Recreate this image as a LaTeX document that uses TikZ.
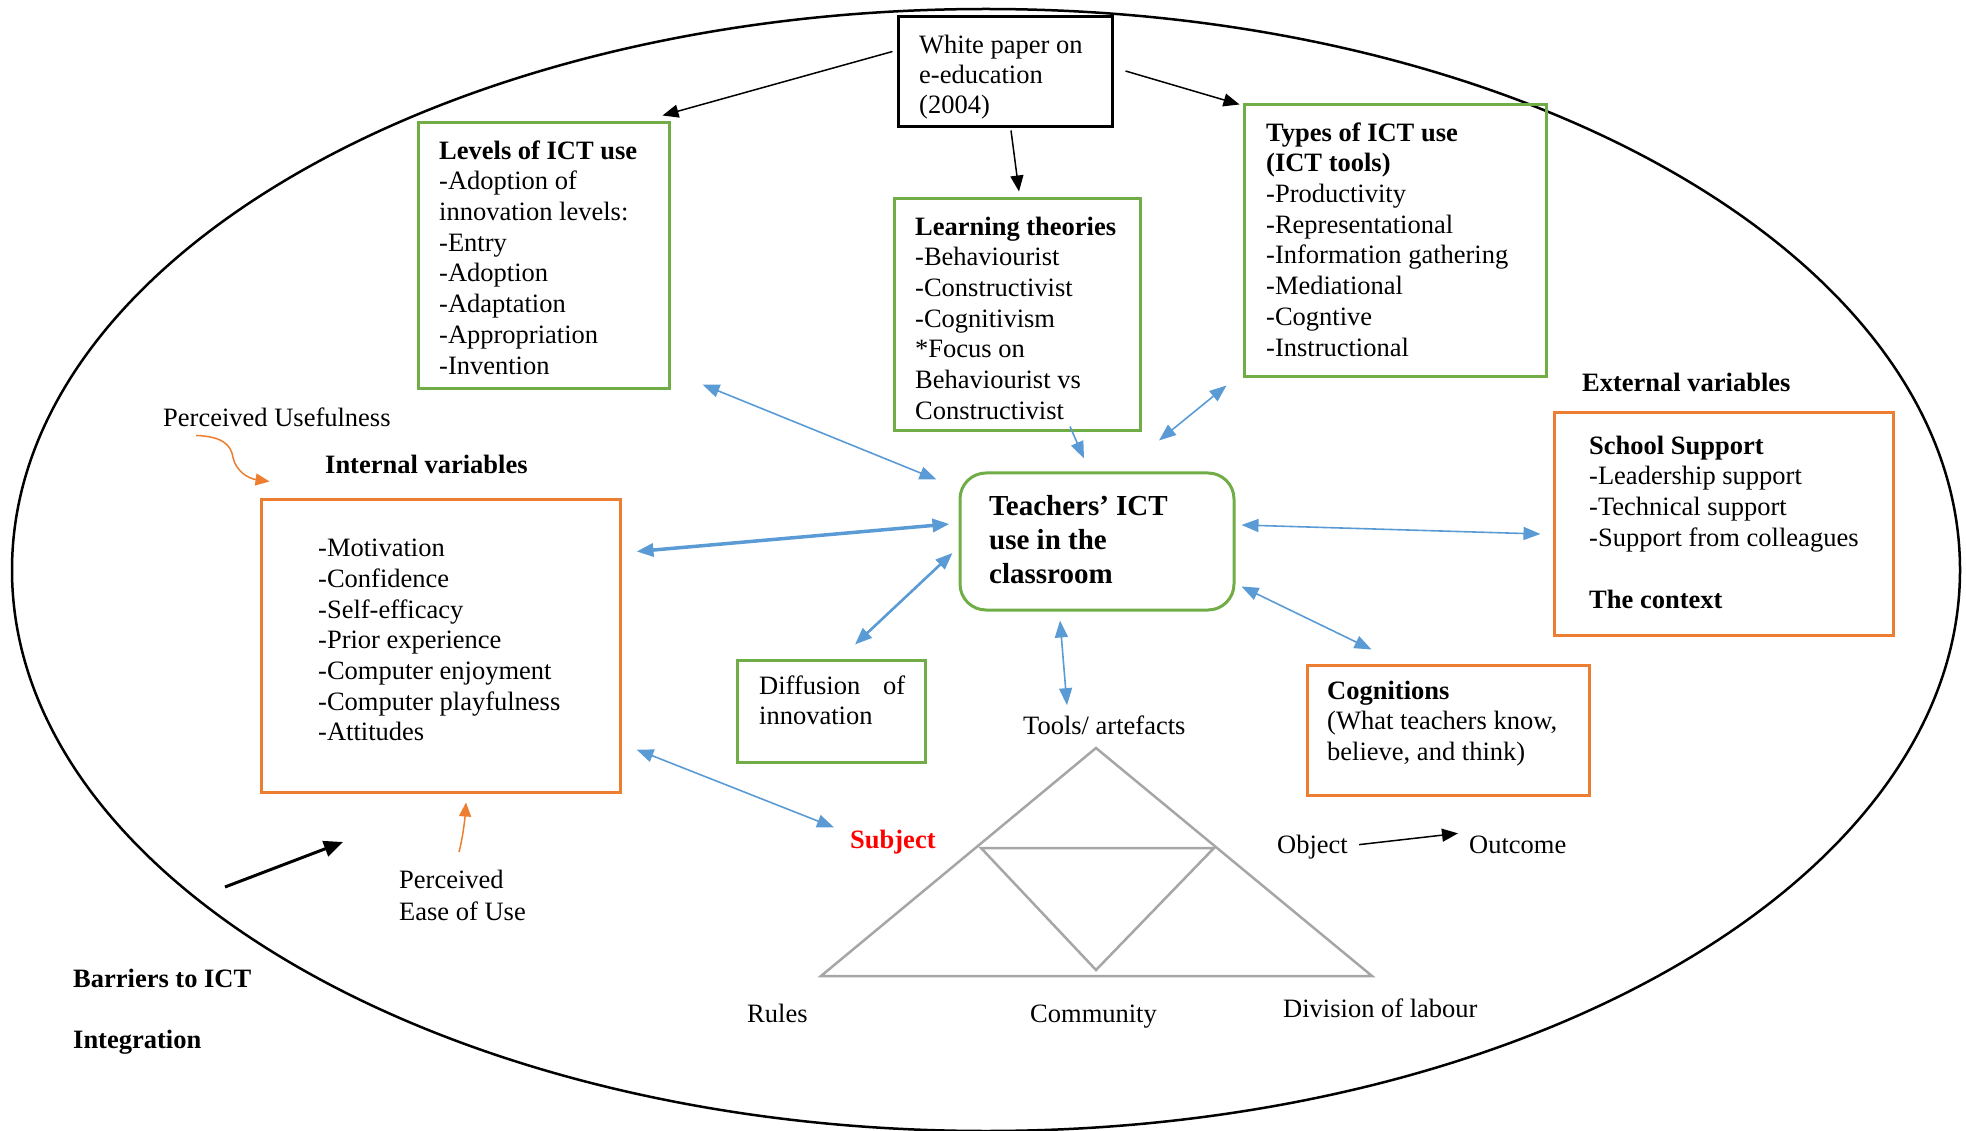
\documentclass[tikz,border=0pt]{standalone}
\usepackage{fontspec}
\setmainfont{Liberation Serif}
\usetikzlibrary{arrows.meta,fit,calc}
\definecolor{boxgreen}{HTML}{70AD47}
\definecolor{boxorange}{HTML}{ED7D31}
\definecolor{linkblue}{HTML}{5B9BD5}
\definecolor{trigray}{HTML}{A6A6A6}

\begin{document}
\begin{tikzpicture}[x=1pt,y=-1pt,
  txt/.style={inner sep=0pt, align=left, anchor=base west,
    font=\fontsize{26.5pt}{30.7pt}\selectfont},
  txtb/.style={txt, font=\fontsize{26.5pt}{30.7pt}\selectfont\bfseries},
  % multi-line text: the first line is given a fixed height of 22pt above its baseline
  mtxt/.style={inner sep=0pt, align=left, anchor=north west,
    font=\fontsize{26.5pt}{30.7pt}\selectfont},
  gbox/.style={draw=boxgreen, line width=3pt, inner sep=0pt},
  obox/.style={draw=boxorange, line width=3pt, inner sep=0pt},
  kbox/.style={draw=black, line width=3pt, inner sep=0pt},
  karrow/.style={draw=black, line width=1.5pt, -{Triangle[length=16pt,width=13pt]}},
  barrow/.style={draw=linkblue, line width=1.6pt,
    {Triangle[length=17pt,width=13pt]}-{Triangle[length=17pt,width=13pt]}},
  sarrow/.style={draw=linkblue, line width=1.6pt, -{Triangle[length=17pt,width=13pt]}},
  oarrow/.style={draw=boxorange, line width=1.5pt, -{Triangle[length=14pt,width=12pt]}},
  tri/.style={draw=trigray, line width=2.5pt, line join=miter}]

\newcommand\firstline{\rule{0pt}{22pt}}

\useasboundingbox (0,0) rectangle (1966,1131);

% outer frame
\draw[line width=2.5pt] (986,570) ellipse [x radius=974, y radius=561];

% boxes
\node[kbox, fit={(898,17) (1112,127)}] (wp) {};
\node[gbox, fit={(418,123) (669,389)}] (levels) {};
\node[gbox, fit={(894,199) (1140,431)}] (learn) {};
\node[gbox, fit={(1244,105) (1546,377)}] (types) {};
\node[gbox, rounded corners=26pt, fit={(960,473) (1234,610)}] (teach) {};
\node[obox, fit={(261,499) (620,792)}] (internal) {};
\node[gbox, fit={(737,660) (925,762)}] (diff) {};
\node[obox, fit={(1307,665) (1589,795)}] (cog) {};
\node[obox, fit={(1554,413) (1893,635)}] (school) {};

% box texts
\node[mtxt, font=\fontsize{26.5pt}{30pt}\selectfont] (wpT) at (919,31)
  {\firstline White paper on\\e-education\\(2004)};
\node[mtxt] (levelsT) at (439,137)
  {\firstline\textbf{Levels of ICT use}\\-Adoption of\\innovation levels:\\-Entry\\-Adoption\\-Adaptation\\-Appropriation\\-Invention};
\node[mtxt] (learnT) at (915,213)
  {\firstline\textbf{Learning theories}\\-Behaviourist\\-Constructivist\\-Cognitivism\\*Focus on\\Behaviourist vs\\Constructivist};
\node[mtxt] (typesT) at (1266,119)
  {\firstline\textbf{Types of ICT use}\\\textbf{(ICT tools)}\\-Productivity\\-Representational\\-Information gathering\\-Mediational\\-Cogntive\\-Instructional};
\node[mtxt, font=\fontsize{29pt}{34pt}\selectfont\bfseries] (teachT) at (989,493)
  {\firstline Teachers’ ICT\\use in the\\classroom};
\node[mtxt] (internalT) at (318,534.5)
  {\firstline-Motivation\\-Confidence\\-Self-efficacy\\-Prior experience\\-Computer enjoyment\\-Computer playfulness\\-Attitudes};
\node[mtxt] (diffT) at (759,672)
  {\firstline\hbox to 146pt{Diffusion\hfill of}\\innovation};
\node[mtxt] (cogT) at (1327,677)
  {\firstline\textbf{Cognitions}\\(What teachers know,\\believe, and think)};
\node[mtxt] (schoolT) at (1589,432)
  {\firstline\textbf{School Support}\\-Leadership support\\-Technical support\\-Support from colleagues\\[31pt]\textbf{The context}};

% free labels
\node[txt] (pu) at (163,427) {Perceived Usefulness};
\node[txtb] (intlab) at (325,474) {Internal variables};
\node[txtb] (extlab) at (1582,392) {External variables};
\node[mtxt, font=\fontsize{26.5pt}{32pt}\selectfont] (pe) at (399,866.6) {\firstline Perceived\\Ease of Use};
\node[mtxt, font=\fontsize{26.5pt}{61pt}\selectfont\bfseries] (barr) at (73,965) {\firstline Barriers to ICT\\Integration};
\node[txt] (tools) at (1023,734) {Tools/ artefacts};
\node[txtb, text=red] (subj) at (850,848) {Subject};
\node[txt] (obj) at (1277,853) {Object};
\node[txt] (outc) at (1469,853) {Outcome};
\node[txt] (rules) at (747,1022) {Rules};
\node[txt] (comm) at (1030,1022) {Community};
\node[txt] (div) at (1283,1017) {Division of labour};

% activity triangle
\coordinate (tA) at (1096,748);
\coordinate (tL) at (821,976);
\coordinate (tR) at (1372,976);
\coordinate (iL) at (981,848);
\coordinate (iR) at (1214,848);
\coordinate (iB) at (1096,970);
\draw[tri] (tA) -- (tR) -- (tL) -- cycle;
\draw[tri] (iL) -- (iR) -- (iB) -- cycle;

% white paper links
\draw[karrow] ([shift={(-4,36)}]wp.north west) -- ([shift={(-8,-6)}]levels.north east);
\draw[karrow] ([shift={(6,2)}]wp.south) -- ([shift={(2,-6)}]learn.north);
\draw[karrow] ([shift={(12,-1)}]wp.east) -- ([shift={(-3,1)}]types.north west);

% links around the classroom box
\draw[barrow] ([shift={(32,-6)}]levels.south east) -- ([shift={(-22,8)}]teach.north west);
\draw[sarrow] ([shift={(53,-6)}]learn.south) -- ([shift={(-13,-13)}]teach.north);
\draw[barrow] ([shift={(-16,7)}]types.south west) -- ([shift={(62,-31)}]teach.north);
\draw[barrow, line width=3.5pt] ([shift={(15,54)}]internal.north east) -- ([shift={(-9,-17.5)}]teach.west);
\draw[barrow, line width=2.6pt] ([shift={(24,-14)}]diff.north) -- ([shift={(-6,11.5)}]teach.west);
\draw[barrow] ([shift={(-37,9)}]teach.south) -- ([shift={(44,-10)}]tools.north west);
\draw[barrow] ([shift={(6,-16.5)}]teach.east) -- ([shift={(-12,10)}]school.west);
\draw[barrow] ([shift={(6,-25)}]teach.south east) -- ([shift={(66,-14)}]cog.north west);
\draw[barrow] ([shift={(15,-44)}]internal.south east) -- ([shift={(-16,-2)}]subj.north west);

% object to outcome
\draw[karrow] ([shift={(11,-2)}]obj.east) -- ([shift={(-11,-11)}]outc.west);

% perceived usefulness and ease of use
\draw[oarrow] ([shift={(33,8)}]pu.south west)
  .. controls +(26,1) and +(-2,-13) .. ([shift={(70,30)}]pu.south west)
  .. controls +(3,14) and +(-21,-3) .. ([shift={(10,-16)}]internal.north west);
\draw[oarrow] ([shift={(60,-14.6)}]pe.north west)
  .. controls +(4,-15) and +(-1,15) .. ([shift={(25.5,9)}]internal.south);

% barriers
\coordinate (barS) at (225,887);
\coordinate (barE) at (343,842);
\draw[draw=black, line width=3pt, -{Triangle[length=19pt,width=16pt]}] (barS) -- (barE);

\end{tikzpicture}
\end{document}
